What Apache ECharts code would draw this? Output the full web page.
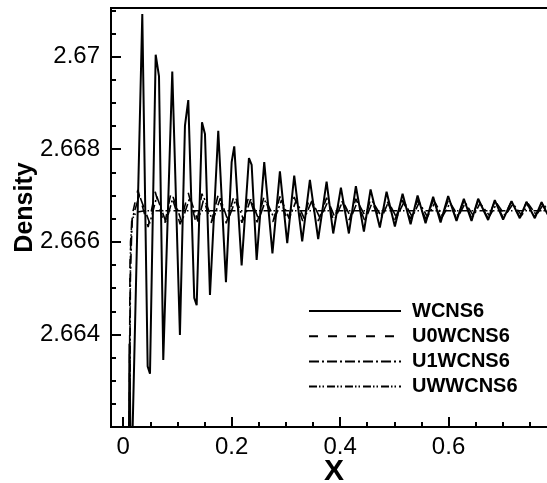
<!DOCTYPE html>
<html>
<head>
<meta charset="utf-8">
<script src="https://cdn.jsdelivr.net/npm/echarts@6.0.0/dist/echarts.min.js"></script>
<style>
html,body{margin:0;padding:0;background:#fff;}
#chart{width:547px;height:483px;}
</style>
</head>
<body>
<div id="chart"></div>
<script>
// ---- data ----
const seriesNames = ['WCNS6', 'U0WCNS6', 'U1WCNS6', 'UWWCNS6'];

const wcns6 = [[0.000,2.6550],[0.0085,2.6570],[0.0115,2.6638],[0.0145,2.6605],[0.0352,2.67092],
 [0.0451,2.66331],[0.0494,2.66315],[0.0599,2.67004],[0.066,2.66958],[0.0739,2.66345],
 [0.0905,2.66968],[0.1046,2.66399],[0.1139,2.66851],[0.120,2.66906],[0.131,2.66479],
 [0.1355,2.66463],[0.1453,2.66858],[0.1508,2.66833],[0.160,2.66485],[0.1753,2.66840],
 [0.1895,2.66513],[0.200,2.66772],[0.2048,2.66806],[0.2184,2.66549],[0.2319,2.66781],
 [0.2369,2.66766],[0.2461,2.66561],[0.2601,2.66772],[0.2752,2.66575],[0.289,2.66752],
 [0.3025,2.66597],[0.3154,2.66743],[0.3301,2.66601],[0.3443,2.66734],[0.3596,2.66606],
 [0.3751,2.66730],[0.3873,2.66618],[0.4015,2.66717],[0.4162,2.66618],[0.4291,2.66720],
 [0.4439,2.66622],[0.4562,2.66713],[0.4733,2.66631],[0.4857,2.66708],[0.5010,2.66633],
 [0.5152,2.66704],[0.530,2.66638],[0.5429,2.66700],[0.5576,2.66640],[0.5716,2.66697],
 [0.5853,2.66642],[0.5993,2.66699],[0.6147,2.66645],[0.6282,2.66693],[0.6424,2.66645],
 [0.6546,2.66693],[0.673,2.66647],[0.6853,2.66690],[0.7006,2.66648],[0.7161,2.66688],
 [0.7314,2.66651],[0.7438,2.66686],[0.7591,2.66651],[0.7714,2.66685],[0.786,2.66652],
 [0.800,2.66684]];

const u0wcns6 = [[0.000,2.6560],[0.0100,2.6580],[0.0125,2.6655],[0.016,2.66655],[0.027,2.66712],
 [0.046,2.66632],[0.059,2.66708],[0.076,2.66636],[0.088,2.66705],[0.105,2.66638],
 [0.120,2.66706],[0.135,2.66638],[0.1453,2.66704],[0.162,2.66640],[0.1753,2.66702],
 [0.190,2.66640],[0.2048,2.66701],[0.219,2.66641],[0.2319,2.66700],[0.247,2.66642],
 [0.2601,2.66699],[0.276,2.66643],[0.289,2.66698],[0.303,2.66644],[0.3154,2.66697],
 [0.331,2.66645],[0.3443,2.66696],[0.360,2.66645],[0.3751,2.66695],[0.388,2.66646],
 [0.4015,2.66694],[0.417,2.66647],[0.4291,2.66693],[0.445,2.66647],[0.4562,2.66692],
 [0.474,2.66648],[0.4857,2.66691],[0.501,2.66648],[0.5152,2.66690],[0.530,2.66649],
 [0.5429,2.66690],[0.558,2.66649],[0.5716,2.66689],[0.586,2.66650],[0.5993,2.66689],
 [0.615,2.66650],[0.6282,2.66688],[0.643,2.66651],[0.6546,2.66688],[0.673,2.66651],
 [0.6853,2.66687],[0.701,2.66652],[0.7161,2.66687],[0.732,2.66652],[0.7438,2.66686],
 [0.759,2.66653],[0.7714,2.66686],[0.786,2.66653]];

const u1wcns6 = [[0.000,2.6562],[0.0105,2.6585],[0.013,2.6652],[0.0165,2.66650],[0.030,2.66700],
 [0.049,2.66640],[0.062,2.66698],[0.079,2.66642],[0.092,2.66697],[0.108,2.66643],
 [0.123,2.66696],[0.138,2.66644],[0.149,2.66695],[0.165,2.66645],[0.179,2.66694],
 [0.193,2.66646],[0.208,2.66693],[0.222,2.66647],[0.235,2.66692],[0.250,2.66648],
 [0.263,2.66691],[0.279,2.66649],[0.292,2.66690],[0.306,2.66650],[0.319,2.66689],
 [0.334,2.66650],[0.348,2.66689],[0.363,2.66651],[0.378,2.66688],[0.391,2.66651],
 [0.405,2.66688],[0.420,2.66652],[0.432,2.66687],[0.448,2.66652],[0.460,2.66687],
 [0.477,2.66653],[0.489,2.66686],[0.504,2.66653],[0.518,2.66686],[0.533,2.66654],
 [0.546,2.66685],[0.561,2.66654],[0.575,2.66685],[0.589,2.66655],[0.603,2.66684],
 [0.618,2.66655],[0.631,2.66684],[0.646,2.66656],[0.658,2.66683],[0.676,2.66656],
 [0.689,2.66683],[0.704,2.66657],[0.719,2.66682],[0.735,2.66657],[0.747,2.66682],
 [0.762,2.66658],[0.775,2.66681],[0.790,2.66658]];

const uwwcns6 = [[0.000,2.6562],[0.011,2.6586],[0.0135,2.66600],[0.017,2.66650],[0.024,2.66664],
 [0.040,2.66667],[0.200,2.66667],[0.400,2.66667],[0.600,2.66667],[0.800,2.66667]];

// tick positions and labels
const xMajorTicks = [0, 0.2, 0.4, 0.6, 0.8];
const xTickLabels = [0, 0.2, 0.4, 0.6];
const xMinorTicks = [0.05, 0.1, 0.15, 0.25, 0.3, 0.35, 0.45, 0.5, 0.55, 0.65, 0.7, 0.75];
const yMajorTicks = [2.664, 2.666, 2.668, 2.67];
const yTickLabels = [2.664, 2.666, 2.668, 2.67];
const yMinorTicks = [2.6625, 2.663, 2.6635, 2.6645, 2.665, 2.6655, 2.6665, 2.667, 2.6675,
 2.6685, 2.669, 2.6695, 2.6705, 2.671];

// ---- chart ----
const FONT = '"Liberation Sans", Arial, Helvetica, sans-serif';
const X_MIN = -0.0225, X_MAX = 0.8, Y_MIN = 2.662, Y_MAX = 2.67105;
const GRID_BOX = { left: 111, top: 8, right: -10, bottom: 56, containLabel: false, outerBoundsMode: 'none' };

const chart = echarts.init(document.getElementById('chart'), null, {renderer: 'canvas'});

const dashStyles = ['solid', [9, 10], [10, 3, 2, 3], [8, 2, 1.5, 2, 1.5, 3]];
const widths = [2, 1.6, 1.6, 1.6];
const datasets = [wcns6, u0wcns6, u1wcns6, uwwcns6];
const tickLine = { color: '#000', width: 2 };

chart.setOption({
  animation: false,
  backgroundColor: '#ffffff',
  grid: [
    Object.assign({ show: true, borderColor: '#000', borderWidth: 2, backgroundColor: 'transparent' }, GRID_BOX),
    Object.assign({ show: false }, GRID_BOX)
  ],
  legend: {
    orient: 'vertical',
    left: 303, top: 296,
    itemWidth: 92, itemHeight: 14, itemGap: 5.2,
    selectedMode: false,
    data: seriesNames,
    itemStyle: { opacity: 0 },
    textStyle: { fontFamily: FONT, fontSize: 20, fontWeight: 'bold', color: '#000',
      padding: [0, 0, 0, 6] }
  },
  xAxis: [{
    gridIndex: 0, type: 'value', min: X_MIN, max: X_MAX, position: 'bottom',
    name: 'X', nameLocation: 'middle', nameGap: 30, nameMoveOverlap: false,
    nameTextStyle: { fontFamily: FONT, fontSize: 30, fontWeight: 'bold', color: '#000' },
    axisLine: { show: true, onZero: false, lineStyle: { color: '#000', width: 2 } },
    axisTick: { show: true, inside: true, length: 10, customValues: xMajorTicks, lineStyle: tickLine },
    axisLabel: { show: true, customValues: xTickLabels, margin: 8,
      fontFamily: FONT, fontSize: 24, color: '#000' },
    splitLine: { show: false }
  }, {
    gridIndex: 1, type: 'value', min: X_MIN, max: X_MAX, position: 'bottom',
    axisLine: { show: false, onZero: false },
    axisTick: { show: true, inside: true, length: 5, customValues: xMinorTicks, lineStyle: tickLine },
    axisLabel: { show: false },
    splitLine: { show: false }
  }],
  yAxis: [{
    gridIndex: 0, type: 'value', min: Y_MIN, max: Y_MAX, position: 'left',
    name: 'Density', nameLocation: 'middle', nameGap: 73, nameMoveOverlap: false,
    nameTextStyle: { fontFamily: FONT, fontSize: 25, fontWeight: 'bold', color: '#000',
      padding: [0, 0, 0, 20] },
    axisLine: { show: true, onZero: false, lineStyle: { color: '#000', width: 2 } },
    axisTick: { show: true, inside: true, length: 10, customValues: yMajorTicks, lineStyle: tickLine },
    axisLabel: { show: true, customValues: yTickLabels, margin: 11,
      fontFamily: FONT, fontSize: 24, color: '#000' },
    splitLine: { show: false }
  }, {
    gridIndex: 1, type: 'value', min: Y_MIN, max: Y_MAX, position: 'left',
    axisLine: { show: false, onZero: false },
    axisTick: { show: true, inside: true, length: 5, customValues: yMinorTicks, lineStyle: tickLine },
    axisLabel: { show: false },
    splitLine: { show: false }
  }],
  series: seriesNames.map((name, i) => ({
    name: name,
    type: 'line',
    xAxisIndex: 0, yAxisIndex: 0,
    data: datasets[i],
    symbol: 'none', showSymbol: false,
    clip: true,
    z: 10 - i,
    lineStyle: { color: '#000', width: widths[i], type: dashStyles[i] },
    itemStyle: { color: '#000' }
  }))
});
</script>
</body>
</html>
